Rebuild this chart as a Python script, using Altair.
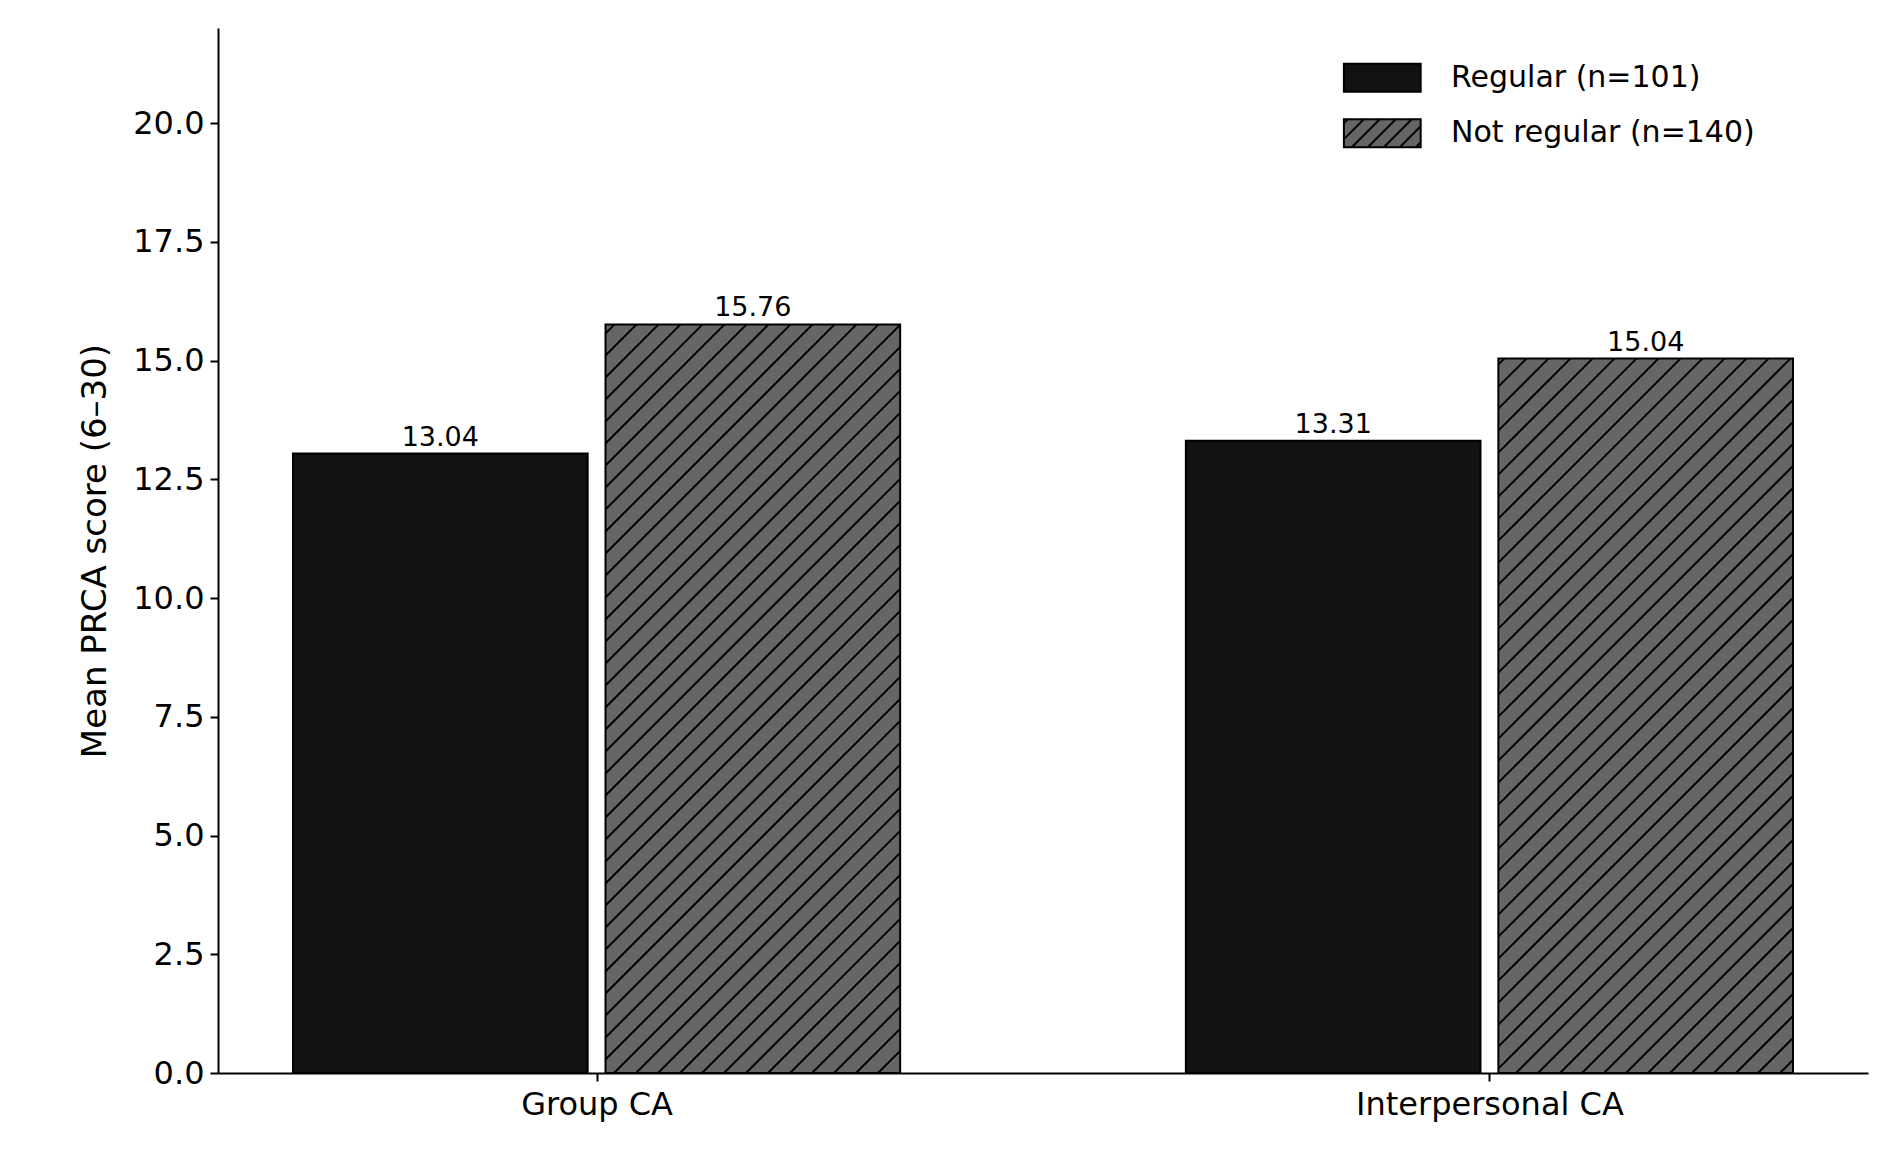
import altair as alt
import pandas as pd
import numpy as np

categories = ["Group CA", "Interpersonal CA"]
regular = [13.04, 13.31]
not_regular = [15.76, 15.04]
series = ["Regular (n=101)", "Not regular (n=140)"]

W, H = 1650, 1045
XMIN, XMAX = -0.424, 1.424
YMAX = 22
sx = W / (XMAX - XMIN)
sy = H / YMAX
BW = 0.33
OFF = 0.175

bars = []
for i, c in enumerate(categories):
    bars.append(dict(x=i - OFF - BW / 2, x2=i - OFF + BW / 2, y=0, y2=regular[i], s=series[0], label=f"{regular[i]:.2f}", xc=i - OFF))
    bars.append(dict(x=i + OFF - BW / 2, x2=i + OFF + BW / 2, y=0, y2=not_regular[i], s=series[1], label=f"{not_regular[i]:.2f}", xc=i + OFF))
bdf = pd.DataFrame(bars)

leg = pd.DataFrame([
    dict(x=0.837, x2=0.923, y=20.66, y2=21.25, s=series[0], tx=0.957, ty=20.955),
    dict(x=0.837, x2=0.923, y=19.49, y2=20.08, s=series[1], tx=0.957, ty=19.785),
])

def hatch(x0, x1, y0, y1, sp=22):
    X0, X1 = (x0 - XMIN) * sx, (x1 - XMIN) * sx
    Y0, Y1 = y0 * sy, y1 * sy
    segs = []
    c = np.floor((X0 - Y1) / sp) * sp
    while c < X1 - Y0:
        a = max(X0, Y0 + c); b = min(X1, Y1 + c)
        if b > a:
            segs.append(dict(x=a / sx + XMIN, y=(a - c) / sy, x2=b / sx + XMIN, y2=(b - c) / sy))
        c += sp
    return segs

hs = []
for r in bars:
    if r["s"] == series[1]:
        hs += hatch(r["x"], r["x2"], r["y"], r["y2"])
hs += hatch(0.837, 0.923, 19.49, 20.08, sp=16)
hdf = pd.DataFrame(hs)

xs = alt.Scale(domain=[XMIN, XMAX], nice=False, zero=False)
ys = alt.Scale(domain=[0, YMAX], nice=False)
col = alt.Color("s:N", scale=alt.Scale(domain=series, range=["#121212", "#666666"]), legend=None)

base_x = alt.X("x:Q", scale=xs, axis=alt.Axis(values=[0, 1], labelExpr="datum.value == 0 ? 'Group CA' : 'Interpersonal CA'", title=None, grid=False, labelFontSize=32, labelLimit=0, tickSize=8, domainColor="black", tickColor="black", labelColor="black", labelPadding=8))
base_y = alt.Y("y:Q", scale=ys, axis=alt.Axis(values=[0, 2.5, 5, 7.5, 10, 12.5, 15, 17.5, 20], format=".1f", title="Mean PRCA score (6–30)", grid=False, labelFontSize=32, titleFontSize=34, titleFontWeight="normal", tickSize=8, domainColor="black", tickColor="black", labelColor="black", titleColor="black", labelPadding=6, titlePadding=20))

rects = alt.Chart(bdf).mark_rect(stroke="black", strokeWidth=2).encode(x=base_x, x2="x2", y=base_y, y2="y2", color=col)
legr = alt.Chart(leg).mark_rect(stroke="black", strokeWidth=2).encode(x=alt.X("x:Q", scale=xs), x2="x2", y=alt.Y("y:Q", scale=ys), y2="y2", color=col)
hat = alt.Chart(hdf).mark_rule(color="black", strokeWidth=2).encode(x=alt.X("x:Q", scale=xs), x2="x2", y=alt.Y("y:Q", scale=ys), y2="y2")
labels = alt.Chart(bdf).mark_text(baseline="bottom", dy=-2, fontSize=27, color="black", font="DejaVu Sans").encode(x=alt.X("xc:Q", scale=xs), y=alt.Y("y2:Q", scale=ys), text="label")
legt = alt.Chart(leg).mark_text(align="left", baseline="middle", fontSize=30, color="black", font="DejaVu Sans").encode(x=alt.X("tx:Q", scale=xs), y=alt.Y("ty:Q", scale=ys), text="s")

chart = alt.layer(rects, legr, hat, labels, legt).properties(width=W, height=H, padding={"left": 70, "top": 20, "right": 5, "bottom": 5}).configure_view(stroke=None).configure_axis(labelFont="DejaVu Sans", titleFont="DejaVu Sans", domainWidth=2, tickWidth=2)
chart.save("out.html", embed_options={"renderer": "svg", "actions": False})
